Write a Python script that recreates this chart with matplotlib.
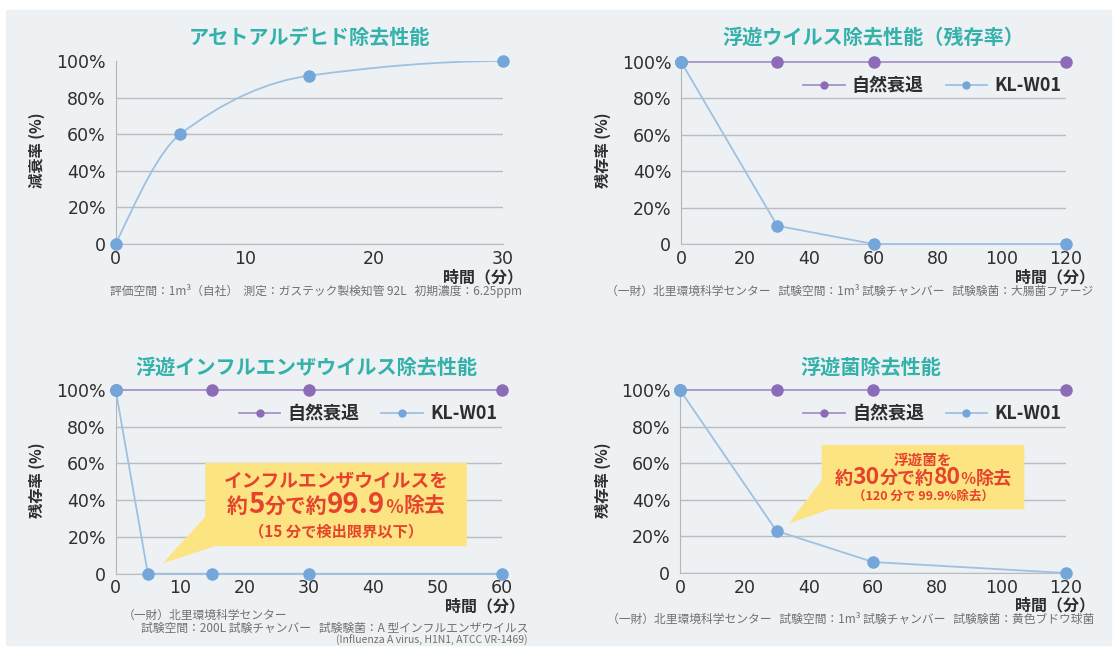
import numpy as np
import matplotlib.pyplot as plt
from matplotlib.path import Path
from matplotlib.patches import PathPatch, Polygon, Rectangle

plt.rcParams['font.family'] = ['Noto Sans CJK JP', 'DejaVu Sans']

"""Data"""
t_acet = [0, 5, 15, 30]
acet = [0, 60, 92, 100]

t_virus = [0, 30, 60, 120]
virus_nat = [100, 100, 100, 100]
virus_kl = [100, 10, 0, 0]

t_flu_nat = [0, 15, 30, 60]
flu_nat = [100, 100, 100, 100]
t_flu = [0, 5, 15, 30, 60]
flu_kl = [100, 0, 0, 0, 0]

t_bac = [0, 30, 60, 120]
bac_nat = [100, 100, 100, 100]
bac_kl = [100, 23, 6, 0]

yticks = [0, 20, 40, 60, 80, 100]
ylabels = ['0', '20%', '40%', '60%', '80%', '100%']

"""Style"""
W, H = 1117, 651
BG = '#eef1f3'
GRID = '#b9bdc1'
SPINE = '#b3b6b9'
TEAL = '#33b1aa'
PURPLE_L = '#a891cc'
PURPLE_M = '#8c6cb8'
BLUE_L = '#9dc1e4'
BLUE_M = '#74a6d9'
DARK = '#2e2e2e'
NOTE = '#707070'
YELLOW = '#fde483'
RED = '#e5432d'
LATIN = ['DejaVu Sans', 'Noto Sans CJK JP']

fig = plt.figure(figsize=(W/100, H/100), dpi=100)
fig.patches.append(Rectangle((6/W, 1-645/H), 1105/W, 635/H,
                             transform=fig.transFigure, color=BG, zorder=-10))

def px(x, y):
    return x/W, 1-y/H

def make_ax(l, r, t, b, xmax, xstep):
    ax = fig.add_axes([l/W, 1-b/H, (r-l)/W, (b-t)/H])
    ax.patch.set_alpha(0)
    ax.set_xlim(0, xmax)
    ax.set_ylim(0, 100)
    ax.set_xticks(np.arange(0, xmax+1, xstep))
    ax.set_yticks(yticks)
    ax.set_yticklabels(ylabels)
    ax.grid(axis='y', color=GRID, lw=1.0)
    ax.set_axisbelow(True)
    for s in ['top', 'right']:
        ax.spines[s].set_visible(False)
    ax.spines['left'].set_color(SPINE)
    ax.spines['bottom'].set_color(GRID)
    ax.tick_params(length=0, labelsize=12.5, labelcolor=DARK)
    ax.tick_params(axis='x', pad=4)
    ax.tick_params(axis='y', pad=7)
    for lab in ax.get_xticklabels() + ax.get_yticklabels():
        lab.set_family(LATIN)
    ax.yaxis.get_gridlines()[-1].set_visible(False)
    return ax

def pchip_path(x, y):
    # monotone cubic (Fritsch-Carlson) drawn as bezier segments
    x = np.asarray(x, float); y = np.asarray(y, float)
    h = np.diff(x); d = np.diff(y)/h
    m = np.zeros_like(x)
    for k in range(1, len(x)-1):
        w1 = 2*h[k]+h[k-1]; w2 = h[k]+2*h[k-1]
        m[k] = (w1+w2)/(w1/d[k-1]+w2/d[k])
    m[0] = max(((2*h[0]+h[1])*d[0]-h[0]*d[1])/(h[0]+h[1]), 0)
    m[-1] = max(((2*h[-1]+h[-2])*d[-1]-h[-1]*d[-2])/(h[-1]+h[-2]), 0)
    verts = [(x[0], y[0])]; codes = [Path.MOVETO]
    for k in range(len(x)-1):
        verts += [(x[k]+h[k]/3, y[k]+m[k]*h[k]/3),
                  (x[k+1]-h[k]/3, y[k+1]-m[k+1]*h[k]/3),
                  (x[k+1], y[k+1])]
        codes += [Path.CURVE4]*3
    return Path(verts, codes)

def labels(ax, title, ylab, cx, ty, ylx, yly, tx, ty2):
    fig.text(*px(cx, ty), title, color=TEAL, fontsize=14.5, weight='bold',
             ha='center', va='center')
    fig.text(*px(ylx, yly), ylab, color=DARK, fontsize=11, weight='bold',
             rotation=90, ha='center', va='center')
    fig.text(*px(tx, ty2), '時間（分）', color=DARK, fontsize=11.5, weight='bold',
             ha='right', va='center')

def series(ax, t, v, lc, mc):
    ax.plot(t, v, color=lc, lw=1.3, marker='o', ms=8, mfc=mc, mec=mc,
            clip_on=False, zorder=3)

def legend(ax, anchor):
    h1, = ax.plot([], [], color=PURPLE_L, lw=1.3, marker='o', ms=5,
                  mfc=PURPLE_M, mec=PURPLE_M)
    h2, = ax.plot([], [], color=BLUE_L, lw=1.3, marker='o', ms=5,
                  mfc=BLUE_M, mec=BLUE_M)
    lg = ax.legend([h1, h2], ['自然衰退', 'KL-W01'], loc='center right',
                   bbox_to_anchor=anchor, ncol=2, frameon=False,
                   handlelength=2.3, columnspacing=1.2, handletextpad=0.4,
                   prop={'size': 13, 'weight': 'bold', 'family': LATIN[::-1]})
    for t in lg.get_texts():
        t.set_color(DARK)

def rich_line(cx, y, pieces, color=RED):
    fig.canvas.draw()
    r = fig.canvas.get_renderer()
    objs = []
    for s, size in pieces:
        t = fig.text(0, 0, s, fontsize=size, weight='bold', color=color,
                     va='baseline', ha='left', family=LATIN[::-1])
        objs.append((t, t.get_window_extent(r).width))
    total = sum(w for _, w in objs)
    x = cx - total/2
    for t, w in objs:
        t.set_position(px(x, y))
        x += w

def callout(ax, verts):
    ax.add_patch(Polygon(verts, closed=True, transform=ax.transAxes,
                         facecolor=YELLOW, edgecolor='none', zorder=4))

"""Panel 1: acetaldehyde"""
ax1 = make_ax(115.7, 503, 61, 244, 30, 10)
ax1.add_patch(PathPatch(pchip_path(t_acet, acet), fill=False,
                        edgecolor=BLUE_L, lw=1.3, zorder=3))
ax1.plot(t_acet, acet, 'o', ms=8, color=BLUE_M, clip_on=False, zorder=4)
labels(ax1, 'アセトアルデヒド除去性能', '減衰率 (%)', 309, 37, 37, 150, 523, 277)
fig.text(*px(522, 291), '評価空間：1m³（自社）  測定：ガステック製検知管 92L   初期濃度：6.25ppm',
         color=NOTE, fontsize=8.5, ha='right', va='center')

"""Panel 2: airborne virus"""
ax2 = make_ax(681, 1066, 61.7, 244, 120, 20)
series(ax2, t_virus, virus_nat, PURPLE_L, PURPLE_M)
series(ax2, t_virus, virus_kl, BLUE_L, BLUE_M)
ax2.plot(t_virus[:1], virus_kl[:1], 'o', ms=8, color=BLUE_M, clip_on=False, zorder=5)
legend(ax2, (1.03, 0.87))
labels(ax2, '浮遊ウイルス除去性能（残存率）', '残存率 (%)', 873, 37, 603, 150, 1095, 277)
fig.text(*px(1093, 291), '（一財）北里環境科学センター   試験空間：1m³ 試験チャンバー   試験験菌：大腸菌ファージ',
         color=NOTE, fontsize=8.5, ha='right', va='center')

"""Panel 3: airborne influenza"""
ax3 = make_ax(115.7, 501.6, 390, 573.7, 60, 10)
series(ax3, t_flu_nat, flu_nat, PURPLE_L, PURPLE_M)
series(ax3, t_flu, flu_kl, BLUE_L, BLUE_M)
ax3.plot(t_flu[:1], flu_kl[:1], 'o', ms=8, color=BLUE_M, clip_on=False, zorder=5)
legend(ax3, (1.03, 0.87))
callout(ax3, [(0.232, 0.603), (0.91, 0.603), (0.91, 0.15), (0.258, 0.15),
              (0.122, 0.057), (0.232, 0.31)])
labels(ax3, '浮遊インフルエンザウイルス除去性能', '残存率 (%)', 306, 367, 37, 480, 525, 606)
fig.text(*px(123, 615), '（一財）北里環境科学センター', color=NOTE, fontsize=8.5,
         ha='left', va='center')
fig.text(*px(528, 628), '試験空間：200L 試験チャンバー   試験験菌：A 型インフルエンザウイルス',
         color=NOTE, fontsize=8.5, ha='right', va='center')
fig.text(*px(528, 640), '(Influenza A virus, H1N1, ATCC VR-1469)', color=NOTE,
         fontsize=7.5, ha='right', va='center')

"""Panel 4: airborne bacteria"""
ax4 = make_ax(680, 1066, 390, 573, 120, 20)
series(ax4, t_bac, bac_nat, PURPLE_L, PURPLE_M)
series(ax4, t_bac, bac_kl, BLUE_L, BLUE_M)
ax4.plot(t_bac[:1], bac_kl[:1], 'o', ms=8, color=BLUE_M, clip_on=False, zorder=5)
legend(ax4, (1.03, 0.87))
callout(ax4, [(0.367, 0.70), (0.892, 0.70), (0.892, 0.348), (0.3875, 0.348),
              (0.282, 0.27), (0.367, 0.508)])
labels(ax4, '浮遊菌除去性能', '残存率 (%)', 871, 367, 603, 480, 1095, 605)
fig.text(*px(1094, 619), '（一財）北里環境科学センター   試験空間：1m³ 試験チャンバー   試験験菌：黄色ブドウ球菌',
         color=NOTE, fontsize=8.5, ha='right', va='center')

"""Callout texts"""
rich_line(336, 487, [('インフルエンザウイルスを', 13.5)])
rich_line(336, 513, [('約', 15), ('5', 20), ('分で約', 15), ('99.9', 20),
                     ('％', 13), ('除去', 15)])
rich_line(336, 536, [('（15 分で検出限界以下）', 11)])
rich_line(923, 465, [('浮遊菌を', 10.5)])
rich_line(923, 484, [('約', 13), ('30', 16.5), ('分で約', 13), ('80', 16.5),
                     ('％', 11), ('除去', 13)])
rich_line(923, 500, [('（120 分で 99.9%除去）', 9)])

fig.savefig('out.png', dpi=100)
